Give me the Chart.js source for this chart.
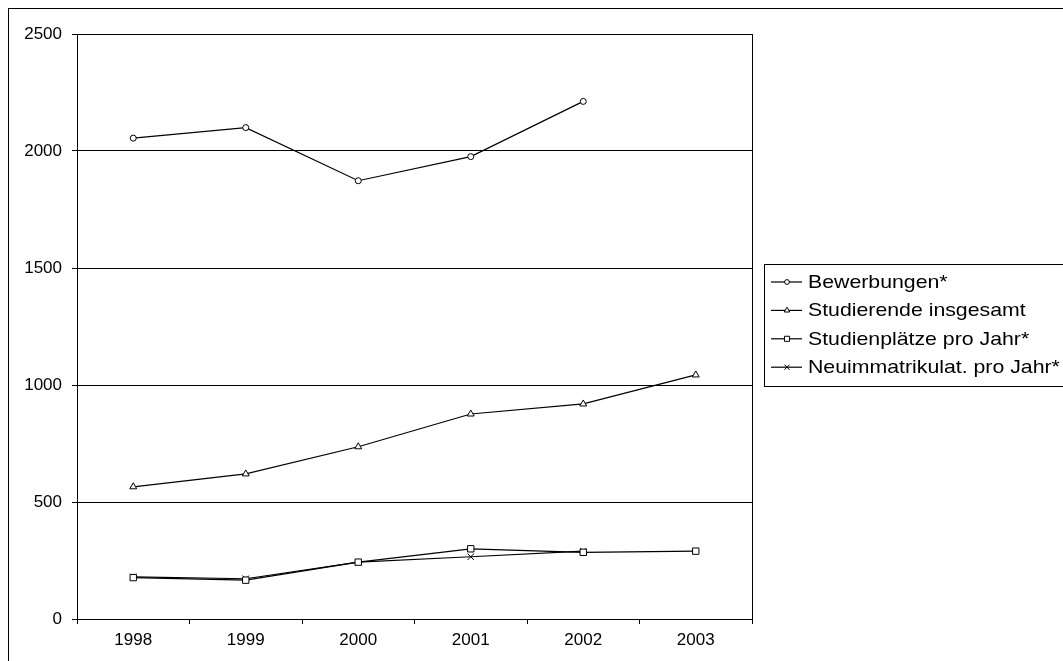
<!DOCTYPE html>
<html>
<head>
<meta charset="utf-8">
<script src="https://cdn.jsdelivr.net/npm/chart.js@4/dist/chart.umd.min.js"></script>
<style>
  html, body { margin: 0; padding: 0; background: #fff; }
  canvas { display: block; }
</style>
</head>
<body>
<canvas id="c" width="1063" height="661"></canvas>
<script>
const years = ['1998', '1999', '2000', '2001', '2002', '2003'];
const bewerbungen = [2055, 2100, 1873, 1976, 2212, null];
const studierende = [565, 620, 736, 876, 919, 1043];
const studienplaetze = [177, 166, 243, 300, 285, 290];
const neuimmatrikulat = [180, 172, 243, 266, 290, null];
const yTicks = [0, 500, 1000, 1500, 2000, 2500];

const FONT = '"Liberation Sans", Arial, sans-serif';

function ds(label, data, style, radius) {
  return {
    label, data,
    borderColor: '#000', borderWidth: 1.2,
    pointStyle: style, pointRadius: radius, pointHoverRadius: radius,
    pointBackgroundColor: '#fff', pointBorderColor: '#000', pointBorderWidth: 1,
    tension: 0, spanGaps: false, fill: false
  };
}

const frame = {
  id: 'frame',
  afterDraw(chart) {
    const ctx = chart.ctx;
    const a = chart.chartArea;
    ctx.save();
    ctx.strokeStyle = '#000';
    ctx.lineWidth = 1;
    // outer border
    ctx.strokeRect(8.5, 8.5, 1200, 1000);
    // plot frame
    ctx.strokeRect(Math.round(a.left) + 0.5, Math.round(a.top) + 0.5,
                   Math.round(a.right - a.left), Math.round(a.bottom - a.top));
    // legend
    const lx = 764.5, ly = 264.5, lw = 400, lh = 122;
    ctx.fillStyle = '#fff';
    ctx.fillRect(lx, ly, lw, lh);
    ctx.strokeRect(lx, ly, lw, lh);
    chart.data.datasets.forEach((d, i) => {
      const y = 282 + i * 28.4;
      ctx.strokeStyle = '#000';
      ctx.lineWidth = 1.2;
      ctx.beginPath();
      ctx.moveTo(771, y);
      ctx.lineTo(802, y);
      ctx.stroke();
      ctx.fillStyle = '#fff';
      ctx.lineWidth = 1;
      Chart.helpers.drawPoint(ctx, {pointStyle: d.pointStyle, radius: d.pointRadius * 0.8, borderWidth: 1, rotation: 0}, 787, y);
      ctx.save();
      ctx.translate(808, y + 1);
      ctx.scale(1.15, 1);
      ctx.font = '18.5px ' + FONT;
      ctx.textBaseline = 'middle';
      ctx.textAlign = 'left';
      ctx.fillStyle = '#000';
      ctx.fillText(d.label, 0, 0);
      ctx.restore();
    });
    ctx.restore();
  }
};

new Chart(document.getElementById('c'), {
  type: 'line',
  data: {
    labels: years,
    datasets: [
      ds('Bewerbungen*', bewerbungen, 'circle', 3),
      ds('Studierende insgesamt', studierende, 'triangle', 4),
      ds('Studienplätze pro Jahr*', studienplaetze, 'rect', 4.5),
      ds('Neuimmatrikulat. pro Jahr*', neuimmatrikulat, 'crossRot', 4.5)
    ]
  },
  options: {
    responsive: false,
    animation: false,
    devicePixelRatio: 1,
    layout: { padding: { left: 0, top: 34, right: 311, bottom: 0 } },
    plugins: { legend: { display: false }, tooltip: { enabled: false } },
    scales: {
      x: {
        type: 'category',
        offset: true,
        grid: { offset: true, drawOnChartArea: false, color: '#000', tickLength: 5, lineWidth: 1 },
        border: { display: true, color: '#000', width: 1 },
        ticks: { color: '#000', font: { family: FONT, size: 17 }, padding: 6, maxRotation: 0 },
        afterFit(s) { s.height = 42; }
      },
      y: {
        min: 0, max: 2500,
        afterBuildTicks(s) { s.ticks = yTicks.map(v => ({ value: v })); },
        grid: { color: '#000', tickLength: 5, lineWidth: 1 },
        border: { display: true, color: '#000', width: 1 },
        ticks: { color: '#000', font: { family: FONT, size: 17 }, padding: 10,
                 callback: (v) => String(v) },
        afterFit(s) { s.width = 77; }
      }
    }
  },
  plugins: [frame]
});
</script>
</body>
</html>
